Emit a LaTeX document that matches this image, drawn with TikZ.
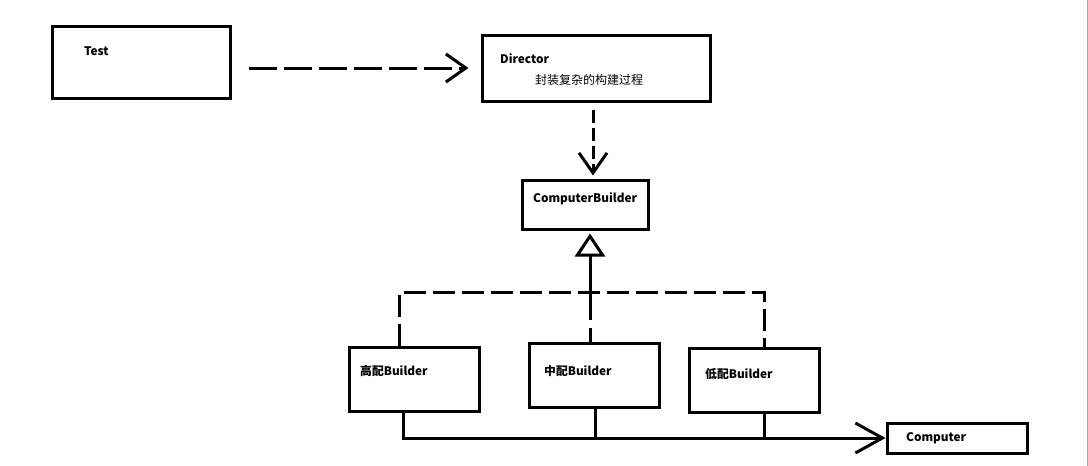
\documentclass[tikz,border=0pt]{standalone}
\usepackage{fontspec}
\setmainfont{Noto Sans CJK SC}
\usetikzlibrary{arrows.meta}
\tikzset{
  box/.style={draw, line width=3pt, rectangle, inner sep=0pt},
  lbl/.style={font=\fontsize{11.8}{14}\selectfont\bfseries, anchor=west, inner sep=0pt},
  cn/.style={font=\fontsize{12}{14}\selectfont, anchor=west, inner sep=0pt},
  wire/.style={line width=3pt},
  dep/.style={wire, -{Straight Barb[length=20pt,width=28pt]}},
}
\begin{document}
\begin{tikzpicture}[x=1pt,y=-1pt]
\useasboundingbox (0,0) rectangle (1088,466);
\draw[gray!70, line width=1pt] (1087.5,0) -- (1087.5,466);

% boxes
\node(Test)[box, minimum width=178pt, minimum height=72pt] at (141,62) {};
\node(Director)[box, minimum width=228pt, minimum height=66pt] at (596,68) {};
\node(CB)[box, minimum width=126pt, minimum height=49pt] at (585,204.5) {};
\node(GP)[box, minimum width=130pt, minimum height=64pt] at (414,379) {};
\node(ZP)[box, minimum width=130pt, minimum height=64pt] at (594,375) {};
\node(DP)[box, minimum width=130pt, minimum height=64pt] at (754,380) {};
\node(Computer)[box, minimum width=140pt, minimum height=30pt] at (957,438) {};

% texts
\node(TestTxt)[lbl] at (84,51) {Test};
\node(DirTxt)[lbl] at (500,59) {Director};
\node(DirNote)[cn] at (535,80) {封装复杂的构建过程};
\node(CBTxt)[lbl] at (533,199) {ComputerBuilder};
\node(GPTxt)[lbl] at (360,371) {高配Builder};
\node(ZPTxt)[lbl] at (544,371) {中配Builder};
\node(DPTxt)[lbl] at (705,374) {低配Builder};
\node(CompTxt)[lbl] at (906,438) {Computer};

% dependencies
\draw[dep, dash pattern=on 28pt off 7pt, shorten <=17pt, shorten >=12pt]
  (Test.east |- Director.west) -- (Director.west);
\draw[dep, dash pattern=on 13pt off 5pt, shorten <=7pt, shorten >=3pt]
  (Director.south -| 593,0) -- (CB.north -| 593,0);

% generalization
\coordinate(J) at (590,292);
\draw[wire, dash pattern=on 22pt off 7pt] (GP.north -| 399,0) -- (399,292) -- (764,292) -- (DP.north -| 764,0);
\draw[wire, dash pattern=on 14pt off 8pt on 200pt, -{Triangle[open, length=23pt, width=30pt, fill=white]}, shorten >=3pt]
  (ZP.north -| J) -- (CB.south -| J);

% products
\draw[wire, -{Straight Barb[length=27pt,width=30pt]}] (GP.south -| 403,0) |- (Computer.west);
\draw[wire] (ZP.south -| 595,0) -- (595,439);
\draw[wire] (DP.south -| 764,0) -- (764,439);
\end{tikzpicture}
\end{document}
